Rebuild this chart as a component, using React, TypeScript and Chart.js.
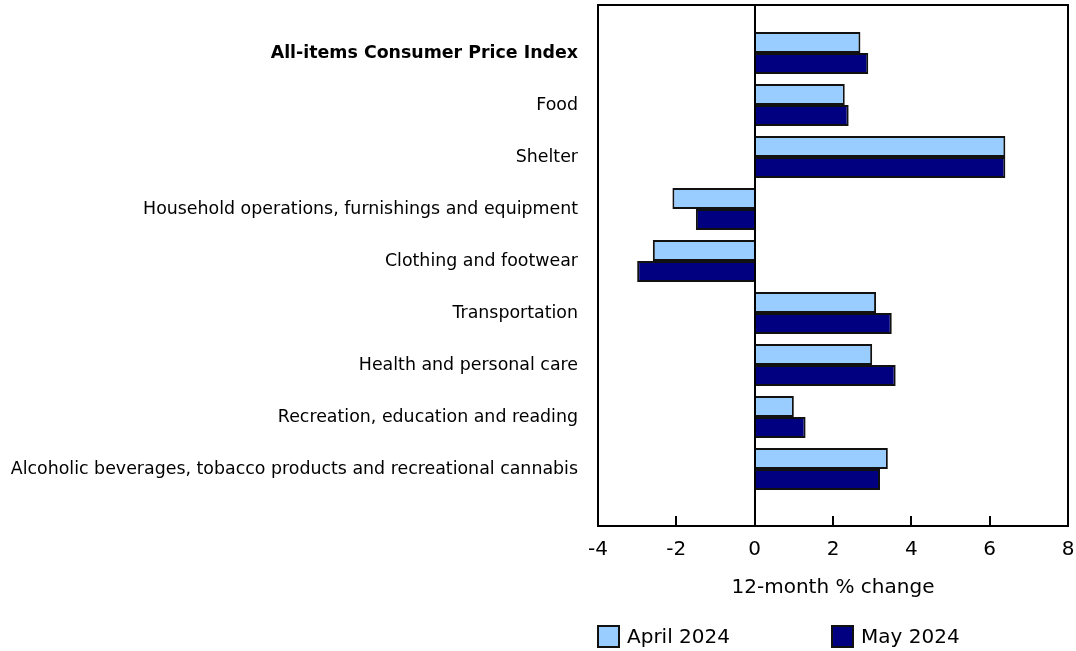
import React, { useEffect, useRef } from "react";
import { Chart, registerables } from "chart.js";

Chart.register(...registerables);

const categories = [
  "All-items Consumer Price Index",
  "Food",
  "Shelter",
  "Household operations, furnishings and equipment",
  "Clothing and footwear",
  "Transportation",
  "Health and personal care",
  "Recreation, education and reading",
  "Alcoholic beverages, tobacco products and recreational cannabis",
];
const april2024 = [2.7, 2.3, 6.4, -2.1, -2.6, 3.1, 3.0, 1.0, 3.4];
const may2024 = [2.9, 2.4, 6.4, -1.5, -3.0, 3.5, 3.6, 1.3, 3.2];
const seriesNames = ["April 2024", "May 2024"];
const xTickValues = [-4, -2, 0, 2, 4, 6, 8];
const xTitle = "12-month % change";

const FONT = "'DejaVu Sans', Verdana, sans-serif";
const TEXT = "#000";
const APRIL_COLOR = "#99CCFF";
const MAY_COLOR = "#000080";

const framePlugin = {
  id: "frameAndLegend",
  afterDraw(chart: any) {
    const { ctx, chartArea, scales } = chart;
    const { left, top, right, bottom } = chartArea;
    const x = scales.x;
    ctx.save();
    ctx.strokeStyle = "#000";
    ctx.lineWidth = 2;
    const px0 = Math.round(x.getPixelForValue(0));
    ctx.beginPath();
    ctx.moveTo(px0, top);
    ctx.lineTo(px0, bottom);
    ctx.stroke();
    ctx.strokeRect(left, top, right - left, bottom - top);
    for (const v of xTickValues) {
      const px = Math.round(x.getPixelForValue(v));
      ctx.beginPath();
      ctx.moveTo(px, bottom);
      ctx.lineTo(px, bottom - 10);
      ctx.stroke();
    }
    const items = [
      { label: seriesNames[0], color: APRIL_COLOR, x: x.getPixelForValue(-4) },
      { label: seriesNames[1], color: MAY_COLOR, x: x.getPixelForValue(2) - 1 },
    ];
    const boxY = 626;
    const box = 21;
    ctx.font = `20px ${FONT}`;
    ctx.textBaseline = "middle";
    ctx.textAlign = "left";
    for (const it of items) {
      ctx.fillStyle = it.color;
      ctx.fillRect(it.x, boxY, box, box);
      ctx.lineWidth = 2;
      ctx.strokeStyle = "#111";
      ctx.strokeRect(it.x, boxY, box, box);
      ctx.fillStyle = TEXT;
      ctx.fillText(it.label, it.x + 29, boxY + box / 2 + 1);
    }
    ctx.restore();
  },
};

export default function App() {
  const ref = useRef<HTMLCanvasElement | null>(null);
  useEffect(() => {
    if (!ref.current) return;
    const chart = new Chart(ref.current, {
      type: "bar",
      data: {
        datasets: [
          {
            label: seriesNames[0],
            data: april2024.map((v, i) => ({ x: v, y: i })),
            backgroundColor: APRIL_COLOR,
            borderColor: "#111",
            borderWidth: 2,
            categoryPercentage: 0.81,
            barPercentage: 1,
          },
          {
            label: seriesNames[1],
            data: may2024.map((v, i) => ({ x: v, y: i })),
            backgroundColor: MAY_COLOR,
            borderColor: "#111",
            borderWidth: 2,
            categoryPercentage: 0.81,
            barPercentage: 1,
          },
        ] as any,
      },
      options: {
        indexAxis: "y",
        responsive: false,
        animation: false,
        layout: { padding: { top: 5, right: 8, left: 0, bottom: 0 } },
        plugins: { legend: { display: false }, tooltip: { enabled: false } },
        scales: {
          x: {
            type: "linear",
            min: -4,
            max: 8,
            offset: false,
            afterBuildTicks: (scale: any) => {
              scale.ticks = xTickValues.map((v) => ({ value: v }));
            },
            grid: { display: false, drawTicks: false },
            border: { display: false },
            ticks: {
              color: TEXT,
              padding: 12,
              font: { family: FONT, size: 20 },
              maxRotation: 0,
              autoSkip: false,
            },
            title: {
              display: true,
              text: xTitle,
              color: TEXT,
              font: { family: FONT, size: 20 },
              padding: { top: 0, bottom: 51 },
            },
            afterFit: (scale: any) => {
              scale.height = 125;
              scale.paddingLeft = 0;
              scale.paddingRight = 0;
            },
          },
          y: {
            type: "linear",
            reverse: true,
            offset: false,
            min: -0.923,
            max: 9.096,
            afterBuildTicks: (scale: any) => {
              scale.ticks = categories.map((_, i) => ({ value: i }));
            },
            grid: { display: false, drawTicks: false, offset: false },
            border: { display: false },
            ticks: {
              color: TEXT,
              padding: 20,
              autoSkip: false,
              callback: (v: any) => categories[v as number] ?? "",
              font: (ctx: any) => ({
                family: FONT,
                size: 17.4,
                weight: ctx.tick && ctx.tick.value === 0 ? "bold" : "normal",
              }),
            },
            afterFit: (scale: any) => {
              scale.width = 598;
              scale.paddingTop = 0;
              scale.paddingBottom = 0;
            },
          },
        },
      } as any,
      plugins: [framePlugin],
    });
    return () => chart.destroy();
  }, []);
  return (
    <div style={{ position: "absolute", left: 0, top: 0, width: 1076, height: 651, background: "#fff" }}>
      <canvas ref={ref} width={1076} height={651} style={{ display: "block" }} />
    </div>
  );
}
